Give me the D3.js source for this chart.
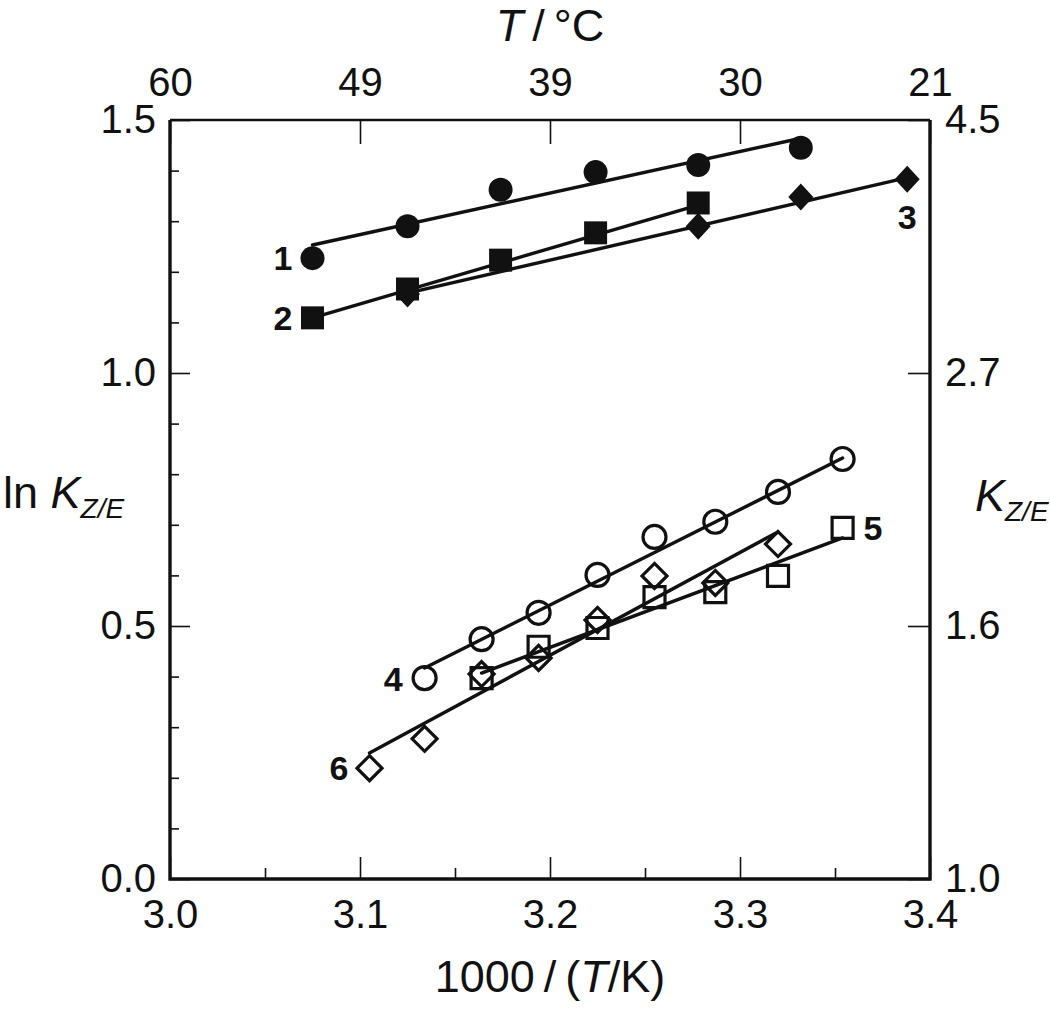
<!DOCTYPE html>
<html>
<head>
<meta charset="utf-8">
<script src="https://cdn.jsdelivr.net/npm/d3@7"></script>
<style>
  html, body { margin: 0; padding: 0; background: #fff; }
  svg { display: block; font-family: "Liberation Sans", Arial, Helvetica, sans-serif; }
</style>
</head>
<body>
<svg id="chart" width="1050" height="1013"></svg>
<script>
// ---------- data ----------
const xTicks = [3.0, 3.1, 3.2, 3.3, 3.4];
const xMinorTicks = [3.05, 3.15, 3.25, 3.35];
const topTickLabels = ["60", "49", "39", "30", "21"];
const yTicks = [0.0, 0.5, 1.0, 1.5];
const yMinorTicks = [0.1, 0.2, 0.3, 0.4, 0.6, 0.7, 0.8, 0.9, 1.1, 1.2, 1.3, 1.4];
const rightTickLabels = ["1.0", "1.6", "2.7", "4.5"];

const s1x = [3.075, 3.125, 3.174, 3.224, 3.278, 3.332];
const s1y = [1.227, 1.290, 1.362, 1.397, 1.411, 1.445];
const s1fit = [[3.075, 1.253], [3.332, 1.464]];

const s2x = [3.075, 3.125, 3.174, 3.224, 3.278];
const s2y = [1.109, 1.166, 1.223, 1.277, 1.336];
const s2fit = [[3.075, 1.109], [3.278, 1.332]];

const s3x = [3.125, 3.278, 3.332, 3.388];
const s3y = [1.156, 1.290, 1.348, 1.383];
const s3fit = [[3.125, 1.158], [3.388, 1.386]];

const s4x = [3.134, 3.164, 3.194, 3.225, 3.255, 3.287, 3.320, 3.354];
const s4y = [0.397, 0.474, 0.526, 0.601, 0.676, 0.706, 0.765, 0.830];
const s4fit = [[3.134, 0.417], [3.354, 0.832]];

const s5x = [3.164, 3.194, 3.225, 3.255, 3.287, 3.320, 3.354];
const s5y = [0.397, 0.459, 0.496, 0.557, 0.567, 0.599, 0.694];
const s5fit = [[3.164, 0.407], [3.354, 0.674]];

const s6x = [3.105, 3.134, 3.164, 3.194, 3.225, 3.255, 3.287, 3.320];
const s6y = [0.219, 0.277, 0.405, 0.437, 0.512, 0.599, 0.585, 0.662];
const s6fit = [[3.105, 0.249], [3.320, 0.686]];

const seriesLabels = ["1", "2", "3", "4", "5", "6"];

// ---------- layout ----------
const INK = "#111";
const svg = d3.select("#chart");
const L = 170, R = 930, T = 120, B = 879;
const x = d3.scaleLinear().domain([3.0, 3.4]).range([L, R]);
const y = d3.scaleLinear().domain([0, 1.5]).range([B, T]);

svg.append("rect").attr("width", 1050).attr("height", 1013).attr("fill", "#fff");

function styleAxis(g, fontSize) {
  g.select(".domain").remove();
  g.selectAll(".tick line").attr("stroke", INK).attr("stroke-width", 1.6);
  g.selectAll(".tick text").attr("fill", INK).attr("font-size", fontSize)
    .attr("font-family", "'Liberation Sans', Arial, Helvetica, sans-serif");
}

// bottom axis
svg.append("g").attr("transform", `translate(0,${B})`)
  .call(d3.axisBottom(x).tickValues(xTicks).tickSizeInner(-22).tickSizeOuter(0)
    .tickPadding(21).tickFormat(d3.format(".1f")))
  .call(g => styleAxis(g, 40));
svg.append("g").attr("transform", `translate(0,${B})`)
  .call(d3.axisBottom(x).tickValues(xMinorTicks).tickSizeInner(-11).tickSizeOuter(0).tickFormat(""))
  .call(g => styleAxis(g, 40));

// top axis
svg.append("g").attr("transform", `translate(0,${T})`)
  .call(d3.axisTop(x).tickValues(xTicks).tickSizeInner(-24).tickSizeOuter(0)
    .tickPadding(24).tickFormat((d, i) => topTickLabels[i]))
  .call(g => styleAxis(g, 40));

// left axis
svg.append("g").attr("transform", `translate(${L},0)`)
  .call(d3.axisLeft(y).tickValues(yTicks).tickSizeInner(-20).tickSizeOuter(0)
    .tickPadding(14).tickFormat(d3.format(".1f")))
  .call(g => styleAxis(g, 40));
svg.append("g").attr("transform", `translate(${L},0)`)
  .call(d3.axisLeft(y).tickValues(yMinorTicks).tickSizeInner(-9).tickSizeOuter(0).tickFormat(""))
  .call(g => styleAxis(g, 40));

// right axis
svg.append("g").attr("transform", `translate(${R},0)`)
  .call(d3.axisRight(y).tickValues(yTicks).tickSizeInner(-22).tickSizeOuter(0)
    .tickPadding(15).tickFormat((d, i) => rightTickLabels[i]))
  .call(g => styleAxis(g, 40));

// frame
svg.append("path")
  .attr("d", `M${L},${T}H${R}`).attr("stroke", INK).attr("stroke-width", 2.4).attr("fill", "none");
svg.append("path")
  .attr("d", `M${R},${T}V${B}H${L}V${T}`).attr("stroke", INK).attr("stroke-width", 3.4)
  .attr("fill", "none").attr("stroke-linejoin", "miter");

// axis titles
const topTitle = svg.append("text").attr("x", 550).attr("y", 41).attr("text-anchor", "middle")
  .attr("font-size", 45).attr("fill", INK);
topTitle.append("tspan").attr("font-style", "italic").text("T");
topTitle.append("tspan").text("\u2009/\u2009°C");

const botTitle = svg.append("text").attr("x", 550).attr("y", 992).attr("text-anchor", "middle")
  .attr("font-size", 45).attr("fill", INK);
botTitle.append("tspan").text("1000\u2009/\u2009(");
botTitle.append("tspan").attr("font-style", "italic").text("T");
botTitle.append("tspan").text("/K)");

const leftTitle = svg.append("text").attr("x", 3).attr("y", 508).attr("font-size", 45).attr("fill", INK);
leftTitle.append("tspan").text("ln ");
leftTitle.append("tspan").attr("font-style", "italic").text("K");
leftTitle.append("tspan").attr("font-style", "italic").attr("font-size", 28).attr("dy", 10).text("Z/E");

const rightTitle = svg.append("text").attr("x", 975).attr("y", 511).attr("font-size", 45).attr("fill", INK);
rightTitle.append("tspan").attr("font-style", "italic").text("K");
rightTitle.append("tspan").attr("font-style", "italic").attr("font-size", 28).attr("dy", 10).text("Z/E");

// ---------- series ----------
const plot = svg.append("g");
const fits = [s1fit, s2fit, s3fit, s4fit, s5fit, s6fit];
const line = d3.line().x(d => x(d[0])).y(d => y(d[1]));
fits.forEach(f => {
  plot.append("path").attr("d", line(f)).attr("stroke", INK).attr("stroke-width", 3.4)
    .attr("fill", "none").attr("stroke-linecap", "round");
});

const zip = (xs, ys) => xs.map((v, i) => [v, ys[i]]);
const sym = {
  circle: d3.symbol().type(d3.symbolCircle).size(Math.PI * 12 * 12),
  square: d3.symbol().type(d3.symbolSquare).size(23 * 23),
  diamond: "M0,-13.5L12.5,0L0,13.5L-12.5,0Z",
  ocircle: d3.symbol().type(d3.symbolCircle).size(Math.PI * 11.5 * 11.5),
  osquare: d3.symbol().type(d3.symbolSquare).size(21 * 21),
  odiamond: "M0,-12.5L12.5,0L0,12.5L-12.5,0Z"
};
function drawPts(pts, shape, filled) {
  const d = typeof sym[shape] === "string" ? sym[shape] : sym[shape]();
  plot.selectAll(null).data(pts).enter().append("path")
    .attr("d", d)
    .attr("transform", p => `translate(${x(p[0])},${y(p[1])})`)
    .attr("fill", filled ? INK : "none")
    .attr("stroke", INK)
    .attr("stroke-width", filled ? 0 : 3.2);
}
const p1 = zip(s1x, s1y), p2 = zip(s2x, s2y), p3 = zip(s3x, s3y);
const p4 = zip(s4x, s4y), p5 = zip(s5x, s5y), p6 = zip(s6x, s6y);
drawPts(p3, "diamond", true);
drawPts(p2, "square", true);
drawPts(p1, "circle", true);
drawPts(p4, "ocircle", false);
drawPts(p5, "osquare", false);
drawPts(p6, "odiamond", false);

// series labels
function lab(text, px, py, anchor) {
  svg.append("text").attr("x", px).attr("y", py).attr("text-anchor", anchor)
    .attr("font-size", 34).attr("font-weight", "bold").attr("fill", INK).text(text);
}
lab(seriesLabels[0], x(p1[0][0]) - 20, y(p1[0][1]) + 12, "end");
lab(seriesLabels[1], x(p2[0][0]) - 20, y(p2[0][1]) + 12, "end");
const l3 = p3[p3.length - 1];
lab(seriesLabels[2], x(l3[0]), y(l3[1]) + 50, "middle");
lab(seriesLabels[3], x(p4[0][0]) - 22, y(p4[0][1]) + 13, "end");
const l5 = p5[p5.length - 1];
lab(seriesLabels[4], x(l5[0]) + 21, y(l5[1]) + 12, "start");
lab(seriesLabels[5], x(p6[0][0]) - 21, y(p6[0][1]) + 12, "end");
</script>
</body>
</html>
